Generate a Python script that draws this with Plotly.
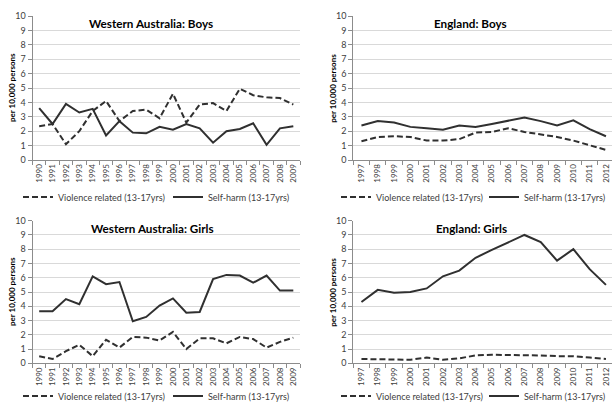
import plotly.graph_objects as go

# ---------------- data ----------------
wa_years = ["1990", "1991", "1992", "1993", "1994", "1995", "1996", "1997", "1998", "1999",
            "2000", "2001", "2002", "2003", "2004", "2005", "2006", "2007", "2008", "2009"]
en_years = ["1997", "1998", "1999", "2000", "2001", "2002", "2003", "2004",
            "2005", "2006", "2007", "2008", "2009", "2010", "2011", "2012"]

wa_boys_violence = [2.35, 2.5, 1.1, 2.0, 3.4, 4.1, 2.7, 3.4, 3.5, 2.9,
                    4.6, 2.6, 3.85, 3.95, 3.4, 4.95, 4.5, 4.35, 4.3, 3.85]
wa_boys_selfharm = [3.6, 2.5, 3.9, 3.3, 3.55, 1.7, 2.7, 1.9, 1.85, 2.3,
                    2.1, 2.5, 2.2, 1.2, 2.0, 2.15, 2.55, 1.05, 2.2, 2.35]

en_boys_violence = [1.3, 1.6, 1.65, 1.6, 1.35, 1.35, 1.45, 1.9,
                    1.95, 2.2, 1.95, 1.8, 1.6, 1.35, 1.0, 0.7]
en_boys_selfharm = [2.4, 2.7, 2.6, 2.3, 2.2, 2.1, 2.4, 2.3,
                    2.5, 2.7, 2.95, 2.7, 2.4, 2.75, 2.15, 1.65]

wa_girls_violence = [0.5, 0.3, 0.85, 1.3, 0.5, 1.65, 1.1, 1.85, 1.8, 1.6,
                     2.2, 1.0, 1.75, 1.75, 1.4, 1.85, 1.7, 1.1, 1.5, 1.8]
wa_girls_selfharm = [3.65, 3.65, 4.5, 4.15, 6.1, 5.55, 5.7, 2.95, 3.25, 4.05,
                     4.55, 3.55, 3.6, 5.9, 6.2, 6.15, 5.65, 6.15, 5.1, 5.1]

en_girls_violence = [0.3, 0.3, 0.25, 0.25, 0.4, 0.25, 0.35, 0.55,
                     0.6, 0.6, 0.6, 0.55, 0.5, 0.5, 0.4, 0.3]
en_girls_selfharm = [4.3, 5.15, 4.95, 5.0, 5.25, 6.1, 6.5, 7.4,
                     7.95, 8.45, 9.0, 8.5, 7.2, 8.0, 6.6, 5.5]

panel_titles = ["Western Australia: Boys", "England: Boys",
                "Western Australia: Girls", "England: Girls"]
y_title = "per 10,000 persons"
violence_name = "Violence related (13-17yrs)"
selfharm_name = "Self-harm (13-17yrs)"
y_ticks = [0, 1, 2, 3, 4, 5, 6, 7, 8, 9, 10]

# ---------------- layout helpers ----------------
W, H = 612, 403
FONT = "Lato, 'Open Sans', sans-serif"
LINE_COL = "#303030"
AXIS_COL = "#8c8c8c"
GRID_COL = "#d9d9d9"
TICK_COL = "#404040"

def px_x(p):
    return p / W

def px_y(p):
    return (H - p) / H

# plot areas in pixels: (left, right, top, bottom)
areas = [
    (32.5, 300.0, 16.0, 160.0),
    (353.3, 612.0, 16.0, 160.0),
    (32.5, 300.0, 220.7, 363.3),
    (353.3, 612.0, 220.7, 363.3),
]
title_centers = [151, 470, 152, 471]
legend_x = [18, 336, 18, 336]
legend_y = [197, 197, 396, 396]
legend_entry = [105, 103, 105, 103]
panels = [
    (wa_years, wa_boys_violence, wa_boys_selfharm),
    (en_years, en_boys_violence, en_boys_selfharm),
    (wa_years, wa_girls_violence, wa_girls_selfharm),
    (en_years, en_girls_violence, en_girls_selfharm),
]

fig = go.Figure()
annotations = []
layout = {}

for i, ((cats, viol, selfh), (l, r, t, b), title) in enumerate(zip(panels, areas, panel_titles)):
    n = i + 1
    xa = "x" if n == 1 else f"x{n}"
    ya = "y" if n == 1 else f"y{n}"
    leg = "legend" if n == 1 else f"legend{n}"
    fig.add_trace(go.Scatter(x=cats, y=viol, mode="lines", name=violence_name,
                             line=dict(color=LINE_COL, width=2, dash="6px,3px"),
                             xaxis=xa, yaxis=ya, legend=leg))
    fig.add_trace(go.Scatter(x=cats, y=selfh, mode="lines", name=selfharm_name,
                             line=dict(color=LINE_COL, width=2),
                             xaxis=xa, yaxis=ya, legend=leg))

    if len(cats) == 20:
        xr = [-0.5, len(cats) - 0.5]
    else:
        xr = [-0.5, -0.5 + (r - l) / 16.3]

    xkey = "xaxis" if n == 1 else f"xaxis{n}"
    ykey = "yaxis" if n == 1 else f"yaxis{n}"
    layout[xkey] = dict(
        domain=[px_x(l), min(1.0, px_x(r))], anchor=ya, type="category",
        range=xr, tickson="boundaries", ticks="outside", ticklen=4,
        tickcolor=AXIS_COL, showline=True, linecolor=AXIS_COL, linewidth=1,
        showgrid=False, tickangle=-90, tickfont=dict(size=8, color=TICK_COL),
        zeroline=False, fixedrange=True, automargin=False,
    )
    layout[ykey] = dict(
        domain=[px_y(b), px_y(t)], anchor=xa, range=[0, 10], tickvals=y_ticks,
        ticks="outside", ticklen=4, tickcolor=AXIS_COL, showline=True,
        linecolor=AXIS_COL, linewidth=1, showgrid=True, gridcolor=GRID_COL,
        gridwidth=1, zeroline=False, tickfont=dict(size=9, color=TICK_COL),
        fixedrange=True, automargin=False,
    )
    # panel title
    annotations.append(dict(
        text=f"<b>{title}</b>", xref="paper", yref="paper",
        x=px_x(title_centers[i]), y=px_y(t + 7),
        xanchor="center", yanchor="middle", showarrow=False,
        font=dict(size=11.7, color="#000000", family=FONT),
    ))
    # y-axis title
    annotations.append(dict(
        text=f"<b>{y_title}</b>", xref="paper", yref="paper",
        x=px_x(l - 20.5), y=px_y((t + b) / 2), textangle=-90,
        xanchor="center", yanchor="middle", showarrow=False,
        font=dict(size=8, color="#000000", family=FONT),
    ))
    # legend
    layout[leg] = dict(
        orientation="h", x=px_x(legend_x[i]), y=px_y(legend_y[i]),
        xanchor="left", yanchor="middle", bgcolor="rgba(0,0,0,0)",
        font=dict(size=9, color=TICK_COL, family=FONT),
        entrywidthmode="pixels", entrywidth=legend_entry[i], itemwidth=30,
        tracegroupgap=0,
    )

fig.update_layout(
    width=W, height=H, margin=dict(l=0, r=0, t=0, b=0, autoexpand=False),
    paper_bgcolor="white", plot_bgcolor="white",
    font=dict(family=FONT, color=TICK_COL),
    showlegend=True, annotations=annotations, **layout,
)

fig.write_html("out.html", config={"displayModeBar": False},
               post_script="document.body.style.margin='0';")
